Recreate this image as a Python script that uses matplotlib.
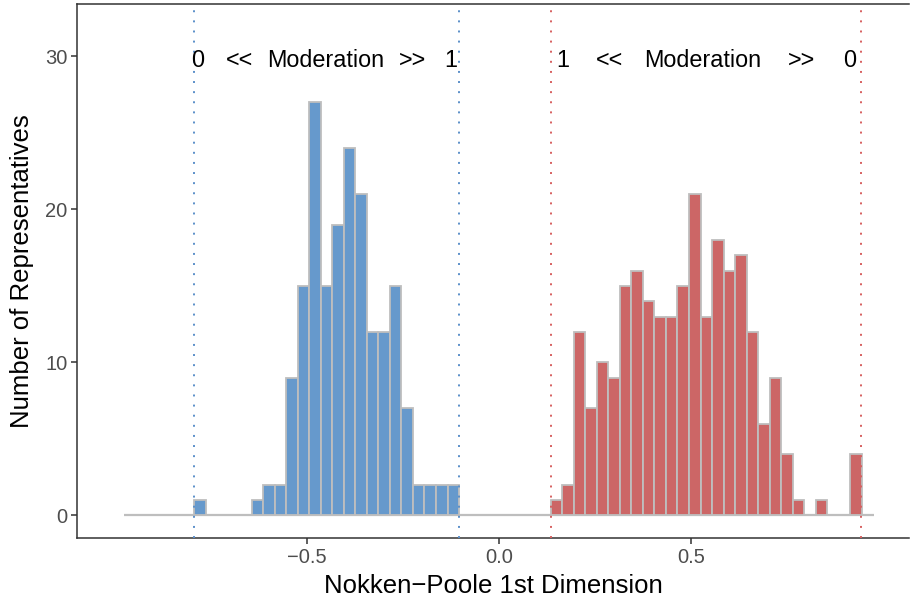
import numpy as np
import matplotlib
matplotlib.use("Agg")
import matplotlib.pyplot as plt

plt.rcParams['font.family'] = ['Liberation Sans', 'DejaVu Sans']

# histogram counts (bin width 0.03)
bin_width = 0.03
blue_start = -0.7935
blue_counts = [1, 0, 0, 0, 0, 1, 2, 2, 9, 15, 27, 15, 19, 24, 21, 12, 12, 15, 7, 2, 2, 2, 2]
red_start = 0.1354
red_counts = [1, 2, 12, 7, 10, 9, 15, 16, 14, 13, 13, 15, 21, 13, 18, 16, 17, 12, 6, 9, 4, 1, 0, 1, 0, 0, 4]

# dotted reference lines (min / max of each group)
blue_lines = [-0.7935, -0.103]
red_lines = [0.1354, 0.944]
baseline_range = [-0.976, 0.977]

blue_fill = "#6699CC"
red_fill = "#CC6666"
edge = "#BEBEBE"

fig = plt.figure(figsize=(9.10, 6.03), dpi=100)
ax = fig.add_axes([0.085, 0.108, 0.914, 0.886])

ax.plot(baseline_range, [0, 0], color=edge, lw=1.6, zorder=1, solid_capstyle='butt')

for start, counts, fill in [(blue_start, blue_counts, blue_fill),
                            (red_start, red_counts, red_fill)]:
    lefts = start + bin_width * np.arange(len(counts))
    counts = np.array(counts)
    keep = counts > 0
    ax.bar(lefts[keep], counts[keep], width=bin_width, align='edge',
           color=fill, edgecolor=edge, linewidth=1.3, zorder=2)

for x in blue_lines:
    ax.axvline(x, color="#5B8FC9", lw=1.4, linestyle=(0, (1, 4.2)), zorder=3)
for x in red_lines:
    ax.axvline(x, color="#D65F5F", lw=1.4, linestyle=(0, (1, 4.2)), zorder=3)

# annotations
tsize = 16.8
left_words = [(-0.784, "0"), (-0.676, "<<"), (-0.451, "Moderation"), (-0.224, ">>"), (-0.124, "1")]
right_words = [(0.166, "1"), (0.289, "<<"), (0.530, "Moderation"), (0.789, ">>"), (0.915, "0")]
for x, s in left_words + right_words:
    ax.text(x, 29.3, s, ha='center', va='baseline', fontsize=tsize, color='black', zorder=4)

ax.set_xlim(-1.0974, 1.0685)
ax.set_ylim(-1.464, 33.45)
ax.set_xticks([-0.5, 0.0, 0.5])
ax.set_xticklabels(["\u22120.5", "0.0", "0.5"])
ax.set_yticks([0, 10, 20, 30])

for side in ['left', 'bottom', 'top']:
    ax.spines[side].set_color("#333333")
    ax.spines[side].set_linewidth(1.1)
ax.spines['right'].set_visible(False)

ax.tick_params(axis='both', colors="#333333", labelcolor="#4D4D4D",
               labelsize=14.5, length=4, width=1.1)
ax.tick_params(axis='x', pad=3)
ax.tick_params(axis='y', pad=3)

ax.set_xlabel("Nokken\u2212Poole 1st Dimension", fontsize=18.5, labelpad=5)
ax.set_ylabel("Number of Representatives", fontsize=18.5, labelpad=8)

fig.savefig("out.png", dpi=100)
